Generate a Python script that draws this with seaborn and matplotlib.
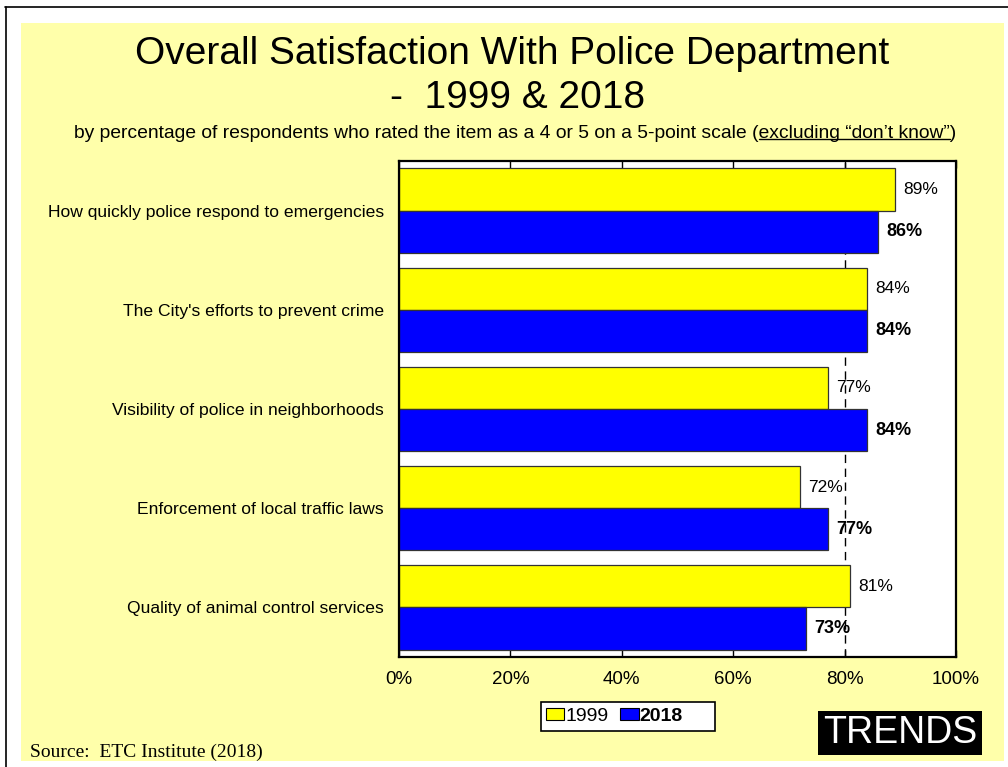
import matplotlib
matplotlib.use("Agg")
import matplotlib.pyplot as plt
from matplotlib.patches import Rectangle, Patch
from matplotlib.lines import Line2D
from matplotlib.ticker import FuncFormatter
import seaborn as sns
import pandas as pd

# Survey items and the share of respondents rating each a 4 or 5
items = [
    "How quickly police respond to emergencies",
    "The City's efforts to prevent crime",
    "Visibility of police in neighborhoods",
    "Enforcement of local traffic laws",
    "Quality of animal control services",
]
years = ["1999", "2018"]
pct_1999 = [89, 84, 77, 72, 81]
pct_2018 = [86, 84, 84, 77, 73]
x_ticks = [0, 20, 40, 60, 80, 100]

YELLOW = "#FFFF00"
BLUE = "#0000FF"
PAGE = "#FFFFAA"

df = pd.DataFrame({
    "item": items * 2,
    "year": [years[0]] * len(items) + [years[1]] * len(items),
    "pct": pct_1999 + pct_2018,
})

sns.set_theme(style="white")
plt.rcParams["font.family"] = ["Liberation Sans", "DejaVu Sans"]

W, H = 1008, 767
fig = plt.figure(figsize=(W / 100, H / 100), dpi=100, facecolor="white")

def fx(px):
    return px / W

def fy(py):
    return 1 - py / H

# page background and frame lines
fig.patches.append(Rectangle((fx(21), fy(761)), fx(1004) - fx(21), fy(23) - fy(761),
                             transform=fig.transFigure, facecolor=PAGE,
                             edgecolor="none", zorder=-2))
fig.lines.append(Line2D([fx(5.5), fx(5.5)], [0, fy(7)], transform=fig.transFigure,
                        color="black", lw=1.2))
fig.lines.append(Line2D([fx(5), 1], [fy(7), fy(7)], transform=fig.transFigure,
                        color="black", lw=1.2))

ax = fig.add_axes([fx(399), fy(657), fx(956) - fx(399), fy(161) - fy(657)])
ax.set_facecolor("white")

ax.axvline(80, color="black", lw=1.0, ls=(0, (6, 4)), zorder=0.5)

sns.barplot(data=df, y="item", x="pct", hue="year", hue_order=years,
            order=items, orient="h", palette=[YELLOW, BLUE], width=0.85,
            edgecolor="#333333", linewidth=0.9, saturation=1, legend=False,
            ax=ax, zorder=2)

for cont, weight, size in zip(ax.containers, ["normal", "bold"], [12.5, 13]):
    ax.bar_label(cont, labels=[f"{b.get_width():.0f}%" for b in cont],
                 padding=6, fontsize=size, fontweight=weight, color="black")

ax.set_xlim(0, 100)
ax.set_xticks(x_ticks)
ax.xaxis.set_major_formatter(FuncFormatter(lambda v, p: f"{v:.0f}%"))
ax.set_xlabel("")
ax.set_ylabel("")
ax.tick_params(axis="x", direction="in", length=5, width=1, top=True,
               bottom=True, labelsize=13.5, pad=10, colors="black")
ax.tick_params(axis="y", length=0, labelsize=12.6, pad=11, colors="black")
for s in ax.spines.values():
    s.set_visible(True)
    s.set_color("black")
    s.set_linewidth(1.6)

# titles
fig.text(fx(512), fy(54), "Overall Satisfaction With Police Department",
         ha="center", va="center", fontsize=28, color="black")
fig.text(fx(518), fy(98), "-  1999 & 2018", ha="center", va="center",
         fontsize=28, color="black")

sub_pre = "by percentage of respondents who rated the item as a 4 or 5 on a 5-point scale ("
sub_ul = "excluding \u201cdon\u2019t know\u201d"
sub_post = ")"
sub_size = 13.9
sub = fig.text(fx(515.5), fy(133), sub_pre + sub_ul + sub_post, ha="center",
               va="center", fontsize=sub_size, color="black")

# underline under the parenthetical part of the subtitle
renderer = fig.canvas.get_renderer()
full_bb = sub.get_window_extent(renderer)
probe = fig.text(0, 0, sub_pre, fontsize=sub_size)
w_pre = probe.get_window_extent(renderer).width
probe.set_text(sub_pre + sub_ul)
w_mid = probe.get_window_extent(renderer).width
probe.remove()
x0 = full_bb.x0 + w_pre
x1 = full_bb.x0 + w_mid
y_ul = full_bb.y0 + 2.5
fig.lines.append(Line2D([x0 / W, x1 / W], [y_ul / H, y_ul / H],
                        transform=fig.transFigure, color="black", lw=1.0))

# legend: white box with the two year entries
fig.patches.append(Rectangle((fx(541), fy(731)), fx(715) - fx(541), fy(702) - fy(731),
                             transform=fig.transFigure, facecolor="white",
                             edgecolor="black", lw=1.2, zorder=3))
handles = [Patch(facecolor=YELLOW, edgecolor="black", lw=0.8),
           Patch(facecolor=BLUE, edgecolor="black", lw=0.8)]
leg = fig.legend(handles, years, loc="center left",
                 bbox_to_anchor=(fx(546), fy(716.5)), bbox_transform=fig.transFigure,
                 ncol=2, frameon=False, fontsize=14,
                 handlelength=0.95, handleheight=0.55, handletextpad=0.05,
                 columnspacing=0.6, borderpad=0.0, borderaxespad=0)
leg.set_zorder(4)
for t in leg.get_texts():
    t.set_color("black")
leg.get_texts()[1].set_fontweight("bold")

# TRENDS tag
fig.patches.append(Rectangle((fx(818), fy(755)), fx(982) - fx(818), fy(711) - fy(755),
                             transform=fig.transFigure, facecolor="black",
                             edgecolor="none", zorder=3))
fig.text(fx(900), fy(733), "TRENDS", ha="center", va="center", fontsize=27,
         color="white", zorder=4)

fig.text(fx(30), fy(757), "Source:  ETC Institute (2018)", ha="left",
         va="baseline", fontsize=14, family=["Liberation Serif", "DejaVu Serif"],
         color="black")

fig.savefig("out.png", dpi=100, facecolor="white")
